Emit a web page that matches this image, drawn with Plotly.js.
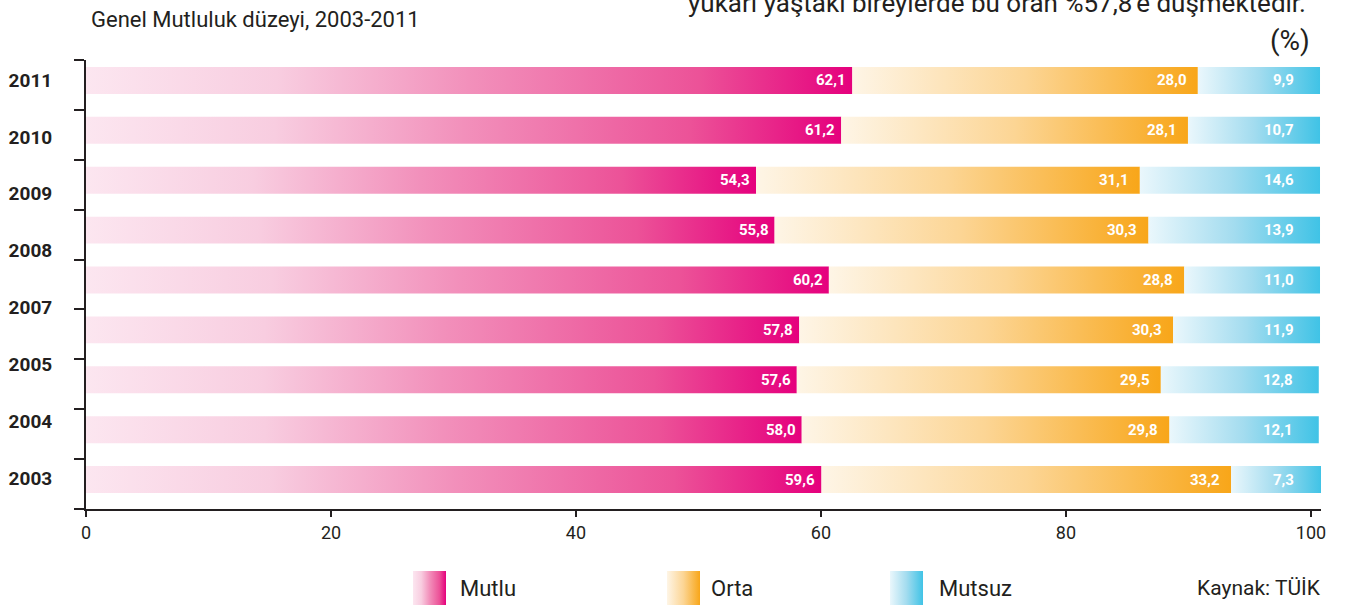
<!DOCTYPE html>
<html>
<head>
<meta charset="utf-8">
<script src="https://cdn.plot.ly/plotly-3.0.1.min.js"></script>
<style>html,body{margin:0;padding:0;background:#fff;}#chart{width:1352px;height:607px;}</style>
</head>
<body>
<div id="chart"></div>
<script>
// ---- data (rows top to bottom, as printed) ----
const yearLabels = ['2011', '2010', '2009', '2008', '2007', '2005', '2004', '2003'];
const mutlu  = [62.1, 61.2, 54.3, 55.8, 60.2, 57.8, 57.6, 58.0, 59.6];
const orta   = [28.0, 28.1, 31.1, 30.3, 28.8, 30.3, 29.5, 29.8, 33.2];
const mutsuz = [9.9, 10.7, 14.6, 13.9, 11.0, 11.9, 12.8, 12.1, 7.3];
const seriesNames = ['Mutlu', 'Orta', 'Mutsuz'];
const xTicks = [0, 20, 40, 60, 80, 100];

// ---- styles ----
const NARROW = "'Liberation Sans Narrow', 'Arial Narrow', Roboto, sans-serif";
const DARK = '#231f20';
const scales = [
  [[0, '#fce6f0'], [0.25, '#f8cde0'], [0.5, '#f290bb'], [0.8, '#ec5298'], [1, '#e5007d']],
  [[0, '#fef5e6'], [0.5, '#fcd594'], [1, '#f8a619']],
  [[0, '#eaf7fc'], [0.5, '#a3dcef'], [1, '#40c3e6']]
];
const labelShift = [-4, -9, -24];
const HALF = 0.27;

const W = 1352, H = 607;
const plotL = 86, plotR = 1321, plotT = 60, plotB = 509;
const X_MAX = 100.08;

const n = mutlu.length;
const traces = [];
const annotations = [];
const fmt = v => v.toFixed(1).replace('.', ',');

for (let i = 0; i < n; i++) {
  const yc = n - 1 - i;
  const vals = [mutlu[i], orta[i], mutsuz[i]];
  let start = 0;
  vals.forEach((v, s) => {
    const a = start, b = start + v;
    traces.push({
      type: 'scatter', mode: 'lines', xaxis: 'x', yaxis: 'y',
      x: [a, b, b, a, a],
      y: [yc - HALF, yc - HALF, yc + HALF, yc + HALF, yc - HALF],
      fill: 'toself',
      fillgradient: {type: 'horizontal', colorscale: scales[s], start: a, stop: b},
      line: {width: 0, color: 'rgba(0,0,0,0)'},
      hoverinfo: 'skip', showlegend: false, name: seriesNames[s]
    });
    annotations.push({
      xref: 'x', yref: 'y', x: Math.min(b, 100), y: yc, xanchor: 'right', yanchor: 'middle',
      xshift: labelShift[s], showarrow: false, text: fmt(v),
      font: {family: NARROW, size: 15, color: '#ffffff', weight: 'bold'}
    });
    start = b;
  });
}

// dummy trace so the overlay axes render
traces.push({type: 'scatter', x: [], y: [], xaxis: 'x2', yaxis: 'y2', showlegend: false, hoverinfo: 'skip'});

// legend swatches (custom, gradient-filled)
const legendX = [413, 667, 890];
const legendTextX = [458, 709, 937];
seriesNames.forEach((nm, s) => {
  const a = legendX[s], b = a + 33;
  traces.push({
    type: 'scatter', mode: 'lines', xaxis: 'x3', yaxis: 'y3',
    x: [a, b, b, a, a], y: [2, 2, 36, 36, 2],
    fill: 'toself',
    fillgradient: {type: 'horizontal', colorscale: scales[s], start: a, stop: b},
    line: {width: 0, color: 'rgba(0,0,0,0)'},
    hoverinfo: 'skip', showlegend: false
  });
  annotations.push({
    xref: 'paper', yref: 'paper', x: legendTextX[s] / W, y: (H - 588) / H,
    xanchor: 'left', yanchor: 'middle', showarrow: false, text: nm,
    font: {family: NARROW, size: 22, color: DARK}
  });
});

annotations.push(
  {xref: 'paper', yref: 'paper', x: 1323 / W, y: (H - 588) / H, xanchor: 'right', yanchor: 'middle',
   showarrow: false, text: 'Kaynak: TÜİK', font: {family: NARROW, size: 21, color: DARK}},
  {xref: 'paper', yref: 'paper', x: 89 / W, y: (H - 19) / H, xanchor: 'left', yanchor: 'middle',
   showarrow: false, text: 'Genel Mutluluk düzeyi, 2003-2011', font: {family: NARROW, size: 22, color: DARK}},
  {xref: 'paper', yref: 'paper', x: 1308 / W, y: (H - 3) / H, xanchor: 'right', yanchor: 'middle',
   showarrow: false, text: 'yukarı yaştaki bireylerde bu oran %57,8\'e düşmektedir.', font: {family: NARROW, size: 26, color: DARK}},
  {xref: 'paper', yref: 'paper', x: 1312 / W, y: (H - 41) / H, xanchor: 'right', yanchor: 'middle',
   showarrow: false, text: '(%)', font: {family: NARROW, size: 28, color: DARK}}
);

const xDom = [plotL / W, plotR / W];
const yDom = [(H - plotB) / H, (H - plotT) / H];
const yTickVals = [];
for (let k = 0; k <= n; k++) yTickVals.push(-0.59 + k);

const layout = {
  width: W, height: H,
  margin: {l: 0, r: 0, t: 0, b: 0, pad: 0},
  paper_bgcolor: '#ffffff', plot_bgcolor: 'rgba(0,0,0,0)',
  showlegend: false,
  xaxis: {domain: xDom, range: [0, X_MAX], anchor: 'y', showgrid: false, zeroline: false,
          showticklabels: false, ticks: '', showline: false, fixedrange: true},
  xaxis2: {domain: xDom, overlaying: 'x', anchor: 'y', side: 'bottom', range: [0, 100.82],
           tickvals: xTicks, ticktext: xTicks.map(String), ticks: 'outside', ticklen: 6, tickwidth: 2,
           tickcolor: DARK, showline: true, linewidth: 2, linecolor: DARK, showgrid: false, zeroline: false,
           tickfont: {family: NARROW, size: 18, color: DARK}},
  yaxis: {domain: yDom, range: [-0.59, 8.41], anchor: 'x', showgrid: false, zeroline: false,
          tickvals: yTickVals, showticklabels: false, ticks: 'outside', ticklen: 10, tickwidth: 2,
          tickcolor: DARK, showline: true, linewidth: 2, linecolor: DARK},
  yaxis2: {domain: yDom, overlaying: 'y', anchor: 'x', side: 'left', range: [-0.545, 7.352],
           tickvals: yearLabels.map((_, k) => yearLabels.length - 1 - k), ticktext: yearLabels,
           ticks: 'outside', ticklen: 29, tickcolor: 'rgba(0,0,0,0)', showline: false,
           showgrid: false, zeroline: false,
           tickfont: {family: NARROW, size: 19, color: DARK, weight: 'bold'}},
  xaxis3: {domain: [0, 1], range: [0, W], anchor: 'y3', visible: false, fixedrange: true},
  yaxis3: {domain: [0, 0.1], range: [0, H * 0.1], anchor: 'x3', visible: false, fixedrange: true},
  annotations: annotations
};

Plotly.newPlot('chart', traces, layout, {displayModeBar: false, staticPlot: true});
</script>
</body>
</html>
